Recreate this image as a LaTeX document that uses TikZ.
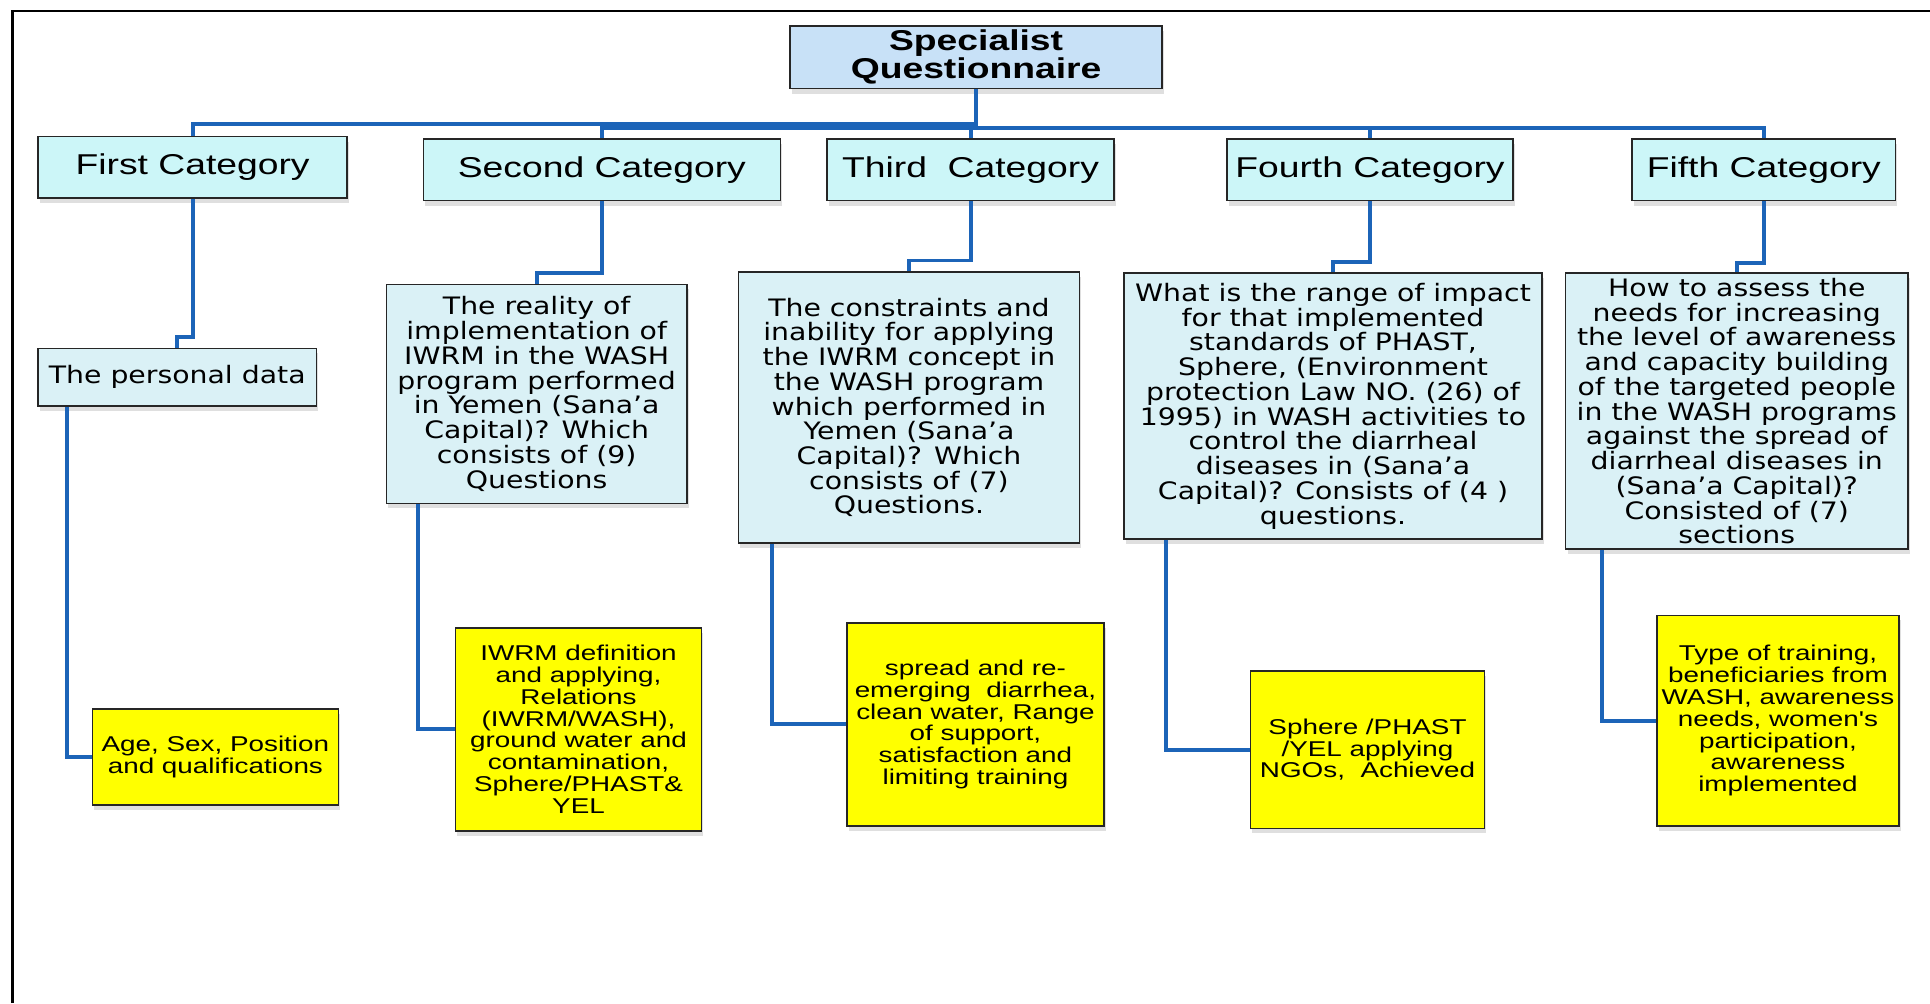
\documentclass[tikz,border=0pt]{standalone}
\usepackage{fontspec}
\setmainfont{Liberation Sans}
\newfontfamily\catfont{Liberation Sans}[FakeStretch=1.3]
\newfontfamily\quesfont{DejaVu Sans}[FakeStretch=1.18]
\usetikzlibrary{shadows}
\definecolor{linkblue}{RGB}{28,100,184}
\definecolor{rootblue}{HTML}{C8E1F7}
\definecolor{catcyan}{HTML}{CCF6F8}
\definecolor{quescyan}{HTML}{DAF1F6}
\definecolor{ansyellow}{HTML}{FFFF00}
\tikzset{box/.style={draw=black!85, line width=1.3pt, inner sep=0pt, align=center,
  drop shadow={opacity=0.25, shadow xshift=1.5pt, shadow yshift=-4pt}}, % frame shared by every box
rootbox/.style={box, fill=rootblue, font={\catfont\bfseries\fontsize{23.3}{23}\selectfont}}, % the questionnaire on top
catbox/.style={box, fill=catcyan, font={\catfont\fontsize{23.3}{23}\selectfont}}, % the five categories
quesbox/.style={box, fill=quescyan, font={\quesfont\fontsize{19.5}{20.1}\selectfont}}, % question of each category
ansbox/.style={box, fill=ansyellow, font={\catfont\fontsize{17.4}{17.7}\selectfont}}, % items asked
link/.style={draw=linkblue, line width=3.2pt}, % blue connectors
}

\begin{document}
\begin{tikzpicture}[x=1pt, y=-1pt]
    \useasboundingbox (0,0) rectangle (1568,815);
    \draw[line width=2pt] (10,815) -- (10,9) -- (1568,9);

    \node[rootbox, minimum width=302pt, minimum height=51pt] (root) at (793,46.5) {Specialist\\Questionnaire};

    \node[catbox, minimum width=251pt, minimum height=50pt] (cat1) at (156.5,136) {First Category};
    \node[catbox, minimum width=290pt, minimum height=50pt] (cat2) at (489,138) {Second Category};
    \node[catbox, minimum width=233pt, minimum height=50pt] (cat3) at (788.5,138) {Third~~Category};
    \node[catbox, minimum width=232pt, minimum height=50pt] (cat4) at (1113,138) {Fourth Category};
    \node[catbox, minimum width=214pt, minimum height=50pt] (cat5) at (1433,138) {Fifth Category};

    \node[quesbox, minimum width=226pt, minimum height=47pt] (pers) at (144,306.5) {The personal data};
    \node[quesbox, minimum width=244pt, minimum height=178pt] (ques2) at (436,320) {The reality of\\implementation of\\IWRM in the WASH\\program performed\\in Yemen (Sana’a\\Capital)? Which\\consists of (9)\\Questions};
    \node[quesbox, minimum width=277pt, minimum height=220pt] (ques3) at (738.5,331) {The constraints and\\inability for applying\\the IWRM concept in\\the WASH program\\which performed in\\Yemen (Sana’a\\Capital)? Which\\consists of (7)\\Questions.};
    \node[quesbox, minimum width=340pt, minimum height=216pt] (ques4) at (1083,330) {What is the range of impact\\for that implemented\\standards of PHAST,\\Sphere, (Environment\\protection Law NO. (26) of\\1995) in WASH activities to\\control the diarrheal\\diseases in (Sana’a\\Capital)? Consists of (4 )\\questions.};
    \node[quesbox, minimum width=278pt, minimum height=224pt] (ques5) at (1411,334) {How to assess the\\needs for increasing\\the level of awareness\\and capacity building\\of the targeted people\\in the WASH programs\\against the spread of\\diarrheal diseases in\\(Sana’a Capital)?\\Consisted of (7)\\sections};

    \node[ansbox, minimum width=200pt, minimum height=78pt] (ans1) at (175,615) {Age, Sex, Position\\and qualifications};
    \node[ansbox, minimum width=200pt, minimum height=165pt] (ans2) at (470,592.5) {IWRM definition\\and applying,\\Relations\\(IWRM/WASH),\\ground water and\\contamination,\\Sphere/PHAST\&\\YEL};
    \node[ansbox, minimum width=209pt, minimum height=165pt] (ans3) at (792.5,588.5) {spread and re-\\emerging~~diarrhea,\\clean water, Range\\of support,\\satisfaction and\\limiting training};
    \node[ansbox, minimum width=190pt, minimum height=128pt] (ans4) at (1111,609) {Sphere /PHAST\\/YEL applying\\NGOs,~~Achieved};
    \node[ansbox, minimum width=197pt, minimum height=171pt] (ans5) at (1444.5,585.5) {Type of training,\\beneficiaries from\\WASH, awareness\\needs, women's\\participation,\\awareness\\implemented};

    \draw[link] (root.south) -- ++(0,28) -| (cat1.north);
    \draw[link] (root.south) -- ++(0,31) -| (cat2.north);
    \draw[link] (root.south) -- ++(0,31) -| (cat3.north);
    \draw[link] (root.south) -- ++(0,31) -| (cat4.north);
    \draw[link] (root.south) -- ++(0,31) -| (cat5.north);

    \draw[link] (cat1.south) -- ++(0,112) -| (pers.north);
    \draw[link] (cat2.south) -- ++(0,58) -| (ques2.north);
    \draw[link] (cat3.south) -- ++(0,48) -| (ques3.north);
    \draw[link] (cat4.south) -- ++(0,49) -| (ques4.north);
    \draw[link] (cat5.south) -- ++(0,50) -| (ques5.north);

    \draw[link] ([xshift=24pt]pers.south west) |- (ans1.west);
    \draw[link] ([xshift=26pt]ques2.south west) |- (ans2.west);
    \draw[link] ([xshift=28pt]ques3.south west) |- (ans3.west);
    \draw[link] ([xshift=35pt]ques4.south west) |- (ans4.west);
    \draw[link] ([xshift=30pt]ques5.south west) |- (ans5.west);
\end{tikzpicture}
\end{document}
